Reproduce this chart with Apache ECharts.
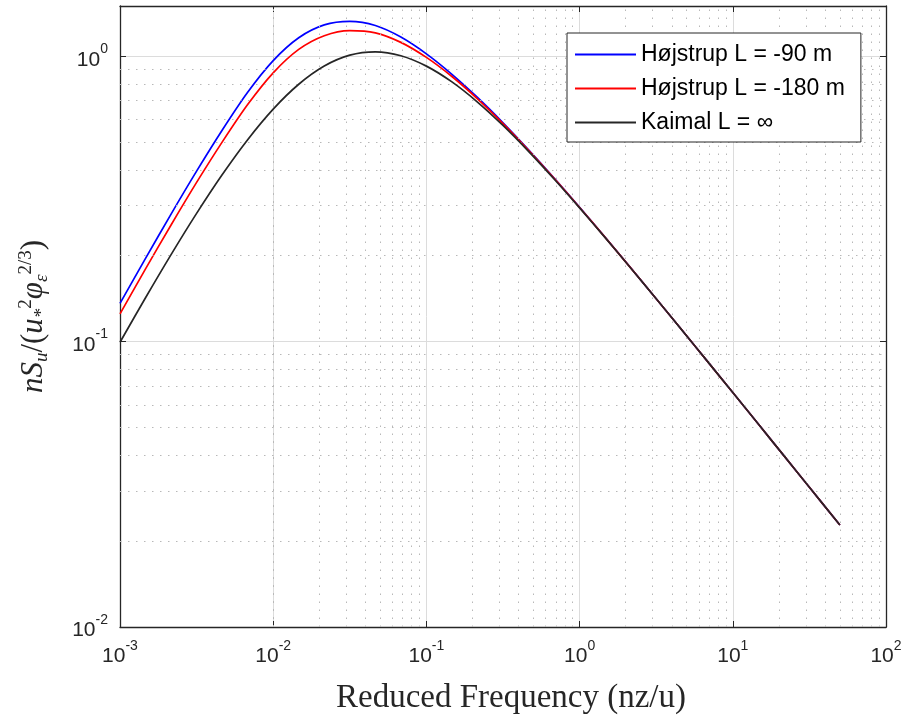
<!DOCTYPE html>
<html><head><meta charset="utf-8">
<script src="https://cdn.jsdelivr.net/npm/echarts@6/dist/echarts.min.js"></script>
<style>html,body{margin:0;padding:0;background:#fff}#c{width:912px;height:719px}</style>
</head><body><div id="c"></div>
<script>
// Reduced frequency (x) values
const freq = [0.001, 0.0014678, 0.0021544, 0.0031623, 0.0046416, 0.0068129, 0.01, 0.014678, 0.021544, 0.031623, 0.046416, 0.068129, 0.1, 0.14678, 0.21544, 0.31623, 0.46416, 0.68129, 1, 1.4678, 2.1544, 3.1623, 4.6416, 6.8129, 10, 14.678, 21.544, 31.623, 50];
// nS_u/(u*^2 phi_eps^(2/3)) values
const hojstrup90 = [0.13609, 0.19577, 0.27981, 0.39564, 0.55055, 0.74792, 0.96561, 1.16100, 1.28770, 1.32460, 1.28166, 1.16763, 1.01960, 0.86459, 0.71725, 0.58480, 0.47035, 0.37436, 0.29560, 0.23207, 0.18143, 0.14142, 0.11000, 0.08545, 0.066297, 0.051412, 0.039851, 0.030877, 0.022764];
const hojstrup180 = [0.12510, 0.17982, 0.25630, 0.36131, 0.50016, 0.67733, 0.87498, 1.05680, 1.18030, 1.22992, 1.20805, 1.11858, 0.99076, 0.84910, 0.70940, 0.58097, 0.46852, 0.37350, 0.29520, 0.23188, 0.18134, 0.14138, 0.10998, 0.08544, 0.066297, 0.051412, 0.039851, 0.030877, 0.022764];
const kaimal = [0.09947, 0.14244, 0.20174, 0.28141, 0.38433, 0.51018, 0.65279, 0.79790, 0.92426, 1.00899, 1.03630, 1.00412, 0.92347, 0.81294, 0.69109, 0.57203, 0.46425, 0.37148, 0.29425, 0.23144, 0.18114, 0.14128, 0.10994, 0.085421, 0.066296, 0.051412, 0.039851, 0.030877, 0.022764];
const seriesNames = ['Højstrup L = -90 m', 'Højstrup L = -180 m', 'Kaimal L = ∞'];
const seriesColors = ['#0000ff', '#ff0000', '#262626'];
const xRange = [0.001, 100];
const yRange = [0.01, 1.5];
const xDecades = [-3, -2, -1, 0, 1];
const yDecades = [-2, -1];
const minorMultipliers = [2, 3, 4, 5, 6, 7, 8, 9];

const chart = echarts.init(document.getElementById('c'), null, {renderer: 'canvas'});
const AX = '#262626';
const labelFont = 'Liberation Sans, Arial, sans-serif';
function expLabel(v) {
  const l = Math.log10(v);
  const e = Math.round(l);
  if (Math.abs(l - e) > 1e-6) return '';
  return '{b|10}{s|' + e + '}';
}
const tickRich = {
  b: {fontFamily: labelFont, fontSize: 21, color: AX, lineHeight: 28, verticalAlign: 'bottom'},
  s: {fontFamily: labelFont, fontSize: 14, color: AX, lineHeight: 14, verticalAlign: 'top'}
};
const minorX = [];
xDecades.forEach(d => minorMultipliers.forEach(m => minorX.push({xAxis: +(m * Math.pow(10, d)).toPrecision(6)})));
const minorY = [];
yDecades.forEach(d => minorMultipliers.forEach(m => minorY.push({yAxis: +(m * Math.pow(10, d)).toPrecision(6)})));

const frameAxisBase = {
  type: 'log', logBase: 10,
  axisLine: {show: true, onZero: false, lineStyle: {color: AX, width: 1.3}},
  axisTick: {show: true, inside: true, length: 6, lineStyle: {color: AX, width: 1}},
};
const serif = 'Liberation Serif, Times New Roman, serif';
const option = {
  animation: false,
  backgroundColor: '#fff',
  grid: {left: 120, right: 26, top: 6, bottom: 92, containLabel: false, outerBoundsMode: 'none'},
  xAxis: [
    Object.assign({}, frameAxisBase, {
      min: xRange[0], max: xRange[1], position: 'bottom',
      axisLabel: {formatter: expLabel, rich: tickRich, margin: 12},
      splitLine: {show: true, lineStyle: {color: '#dcdcdc', width: 1}},
      name: 'Reduced Frequency (nz/u)', nameLocation: 'middle', nameGap: 55,
      nameTextStyle: {fontFamily: serif, fontSize: 33, color: AX, padding: [0, 0, 0, 16]}
    }),
    Object.assign({}, frameAxisBase, {
      min: xRange[0], max: xRange[1], position: 'top',
      axisLabel: {show: false}, splitLine: {show: false}
    })
  ],
  yAxis: [
    Object.assign({}, frameAxisBase, {
      min: yRange[0], max: yRange[1], position: 'left',
      axisLabel: {formatter: expLabel, rich: tickRich, margin: 12},
      splitLine: {show: true, lineStyle: {color: '#dcdcdc', width: 1}},
      name: '{it|nS}{sub|u}{up|/(}{it|u}{sub|*}{sup|2}{it|φ}{sub|ε}{sup|2/3}{up|)}',
      nameLocation: 'middle', nameGap: 69, nameRotate: 90,
      nameTextStyle: {
        color: AX,
        rich: {
          it: {fontFamily: serif, fontStyle: 'italic', fontSize: 31, color: AX, lineHeight: 34, verticalAlign: 'middle'},
          up: {fontFamily: serif, fontSize: 31, color: AX, lineHeight: 34, verticalAlign: 'middle'},
          sub: {fontFamily: serif, fontStyle: 'italic', fontSize: 19, color: AX, lineHeight: 17, verticalAlign: 'bottom'},
          sup: {fontFamily: serif, fontSize: 19, color: AX, lineHeight: 17, verticalAlign: 'top'}
        }
      }
    }),
    Object.assign({}, frameAxisBase, {
      min: yRange[0], max: yRange[1], position: 'right',
      axisLabel: {show: false}, splitLine: {show: false}
    })
  ],
  legend: {
    data: seriesNames, orient: 'vertical', left: 567, top: 33,
    icon: 'rect', itemWidth: 61, itemHeight: 2, itemGap: 11,
    padding: [10, 16, 8, 8], borderColor: AX, borderWidth: 1, backgroundColor: '#fff',
    textStyle: {fontFamily: labelFont, fontSize: 23, color: '#000', lineHeight: 22},
    selectedMode: false, z: 10
  },
  series: [
    {
      name: 'minor-grid', type: 'line', data: [], silent: true, z: 1,
      markLine: {
        silent: true, symbol: 'none', animation: false,
        label: {show: false},
        lineStyle: {color: '#b8b8b8', width: 1, type: [1.5, 6.5]},
        emphasis: {disabled: true},
        data: minorX.concat(minorY)
      }
    }
  ].concat([hojstrup90, hojstrup180, kaimal].map((arr, i) => ({
    name: seriesNames[i], type: 'line', xAxisIndex: 0, yAxisIndex: 0,
    data: freq.map((f, j) => [f, arr[j]]),
    showSymbol: false, symbol: 'none', smooth: 0.3, z: 3 + i,
    lineStyle: {color: seriesColors[i], width: 1.7},
    itemStyle: {color: seriesColors[i]},
    emphasis: {disabled: true}
  })))
};
chart.setOption(option);
</script></body></html>
